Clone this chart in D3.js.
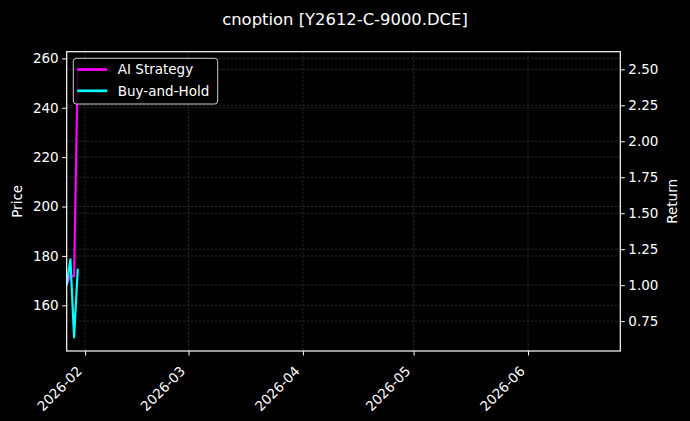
<!DOCTYPE html>
<html lang="en">
<head>
<meta charset="UTF-8">
<script src="https://d3js.org/d3.v7.min.js"></script>
<style>
  body { margin: 0; background: #000; }
  text { font-family: "DejaVu Sans", sans-serif; }
</style>
</head>
<body>
<div id="viz"></div>
<script>
    // data
    const dates = ["2026-01-27", "2026-01-28", "2026-01-29", "2026-01-30"];
    const aiStrategy = [1.00, 1.07, 1.06, 2.528];
    const buyHold = [1.00, 1.179, 0.637, 1.114];
    const priceRange = [147.0, 257.2];
    const dateRange = ["2026-01-27", "2026-06-26"];
    const priceTicks = [160, 180, 200, 220, 240, 260];
    const returnTicks = [0.75, 1.00, 1.25, 1.50, 1.75, 2.00, 2.25, 2.50];
    const monthTicks = ["2026-02-01", "2026-03-01", "2026-04-01", "2026-05-01", "2026-06-01"];
    const seriesNames = ["AI Strategy", "Buy-and-Hold"];
    const seriesColors = ["#ff00ff", "#00ffff"];

    const W = 690, H = 421;
    const margin = {top: 51.7, right: 69.7, bottom: 70, left: 66.7},
        width = W - margin.left - margin.right,
        height = H - margin.top - margin.bottom;

    const parse = d3.utcParse("%Y-%m-%d");
    const fmt = d3.utcFormat("%Y-%m");
    const fs = "13.5px";

    const svg = d3.select("#viz")
        .append("svg")
        .attr("width", W)
        .attr("height", H)
        .style("background", "#000");

    const g = svg.append("g")
        .attr("transform", `translate(${margin.left}, ${margin.top})`);

    // matplotlib style 5% padding
    const pad = ext => {
        const m = (ext[1] - ext[0]) * 0.05;
        return [ext[0] - m, ext[1] + m];
    };

    const x = d3.scaleUtc()
        .domain(dateRange.map(parse))
        .range([0, width]);

    const yPrice = d3.scaleLinear()
        .domain(pad(priceRange))
        .range([height, 0]);

    const yRet = d3.scaleLinear()
        .domain(pad(d3.extent(aiStrategy.concat(buyHold))))
        .range([height, 0]);

    // grid
    const grid = g.append("g")
        .attr("stroke", "#404040")
        .attr("stroke-width", 0.6)
        .attr("stroke-dasharray", "2.5,1.5");
    grid.selectAll(".gx").data(monthTicks).join("line")
        .attr("x1", d => x(parse(d))).attr("x2", d => x(parse(d)))
        .attr("y1", 0).attr("y2", height);
    grid.selectAll(".gp").data(priceTicks).join("line")
        .attr("x1", 0).attr("x2", width)
        .attr("y1", d => yPrice(d)).attr("y2", d => yPrice(d));
    grid.selectAll(".gr").data(returnTicks).join("line")
        .attr("x1", 0).attr("x2", width)
        .attr("y1", d => yRet(d)).attr("y2", d => yRet(d));

    // lines
    g.append("clipPath").attr("id", "clip")
        .append("rect").attr("width", width).attr("height", height);

    const line = d3.line()
        .x((d, i) => x(parse(dates[i])))
        .y(d => yRet(d));

    [aiStrategy, buyHold].forEach((s, i) => {
        g.append("path")
            .datum(s)
            .attr("clip-path", "url(#clip)")
            .attr("fill", "none")
            .attr("stroke", seriesColors[i])
            .attr("stroke-width", 2.2)
            .attr("stroke-linejoin", "round")
            .attr("d", line);
    });

    // axes
    const styleAxis = sel => {
        sel.selectAll("text").attr("fill", "#fff").style("font-size", fs);
        sel.selectAll("line").attr("stroke", "#fff").attr("stroke-width", 1);
        sel.select(".domain").remove();
    };

    g.append("g")
        .call(d3.axisLeft(yPrice).tickValues(priceTicks).tickSize(4.5).tickPadding(3.5))
        .call(styleAxis);

    g.append("g")
        .attr("transform", `translate(${width}, 0)`)
        .call(d3.axisRight(yRet).tickValues(returnTicks).tickSize(4.5).tickPadding(3.5)
            .tickFormat(d3.format(".2f")))
        .call(styleAxis);

    const xAxis = g.append("g")
        .attr("transform", `translate(0, ${height})`)
        .call(d3.axisBottom(x).tickValues(monthTicks.map(parse)).tickSize(4.5).tickFormat(fmt))
        .call(styleAxis);
    xAxis.selectAll("text")
        .attr("text-anchor", "end")
        .attr("dy", 0)
        .attr("y", 0)
        .attr("transform", "translate(-2.8, 21) rotate(-45)");

    // frame
    g.append("rect")
        .attr("width", width)
        .attr("height", height)
        .attr("fill", "none")
        .attr("stroke", "#fff")
        .attr("stroke-width", 1.2);

    // titles
    svg.append("text")
        .attr("x", W / 2)
        .attr("y", 24.5)
        .attr("text-anchor", "middle")
        .attr("fill", "#fff")
        .style("font-size", "16.4px")
        .text("cnoption [Y2612-C-9000.DCE]");

    svg.append("text")
        .attr("transform", `translate(21.5, ${margin.top + height / 2}) rotate(-90)`)
        .attr("text-anchor", "middle")
        .attr("fill", "#fff")
        .style("font-size", fs)
        .text("Price");

    svg.append("text")
        .attr("transform", `translate(677, ${margin.top + height / 2}) rotate(-90)`)
        .attr("text-anchor", "middle")
        .attr("fill", "#fff")
        .style("font-size", fs)
        .text("Return");

    // legend
    const legend = svg.append("g").attr("transform", "translate(73.3, 58.3)");
    legend.append("rect")
        .attr("width", 144.4)
        .attr("height", 45.7)
        .attr("rx", 3)
        .attr("fill", "#000")
        .attr("fill-opacity", 0.85)
        .attr("stroke", "#cccccc")
        .attr("stroke-width", 1);
    seriesNames.forEach((name, i) => {
        const yy = 11.2 + i * 21.3;
        legend.append("line")
            .attr("x1", 4).attr("x2", 34)
            .attr("y1", yy).attr("y2", yy)
            .attr("stroke", seriesColors[i])
            .attr("stroke-width", 2.7);
        legend.append("text")
            .attr("x", 44.5)
            .attr("y", yy)
            .attr("dy", "0.35em")
            .attr("fill", "#fff")
            .style("font-size", fs)
            .text(name);
    });
</script>
</body>
</html>
